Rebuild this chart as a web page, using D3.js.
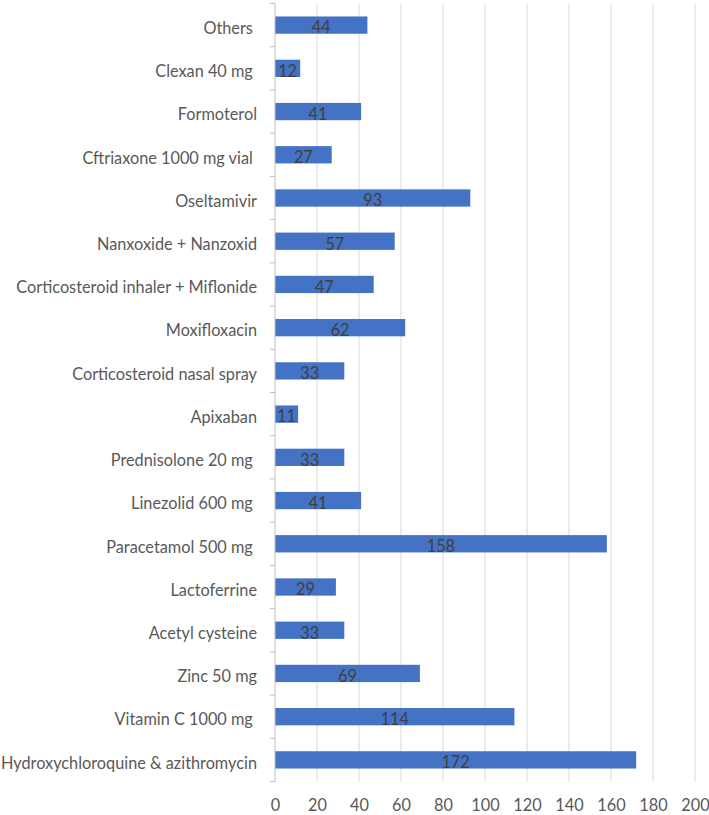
<!DOCTYPE html>
<html><head><meta charset="utf-8">
<script src="https://cdn.jsdelivr.net/npm/d3@7"></script>
<style>body{margin:0;background:#fff}svg text{white-space:pre}</style>
</head><body><svg id="c" width="709" height="815"></svg>
<script>
const categories = ["Others ","Clexan 40 mg ","Formoterol","Cftriaxone 1000 mg vial ","Oseltamivir","Nanxoxide + Nanzoxid","Corticosteroid inhaler + Miflonide","Moxifloxacin","Corticosteroid nasal spray","Apixaban","Prednisolone 20 mg ","Linezolid 600 mg ","Paracetamol 500 mg ","Lactoferrine","Acetyl cysteine","Zinc 50 mg","Vitamin C 1000 mg ","Hydroxychloroquine & azithromycin"];
const values = [44,12,41,27,93,57,47,62,33,11,33,41,158,29,33,69,114,172];
const xTicks = [0,20,40,60,80,100,120,140,160,180,200];

const svg = d3.select("#c");
const font = "Lato, 'Open Sans', sans-serif";
const top0 = 3.5, bot0 = 781.5;
const x = d3.scaleLinear().domain([0,200]).range([275,695]);
const y = d3.scaleBand().domain(categories).range([top0,bot0]).paddingInner(0.6).paddingOuter(0.3);

svg.append("g").selectAll("line").data(xTicks.slice(1)).join("line")
  .attr("x1",d=>x(d)).attr("x2",d=>x(d)).attr("y1",top0).attr("y2",bot0)
  .attr("stroke","#d9d9d9").attr("stroke-width",1);

svg.append("g").selectAll("rect").data(values).join("rect")
  .attr("x",x(0)).attr("y",(d,i)=>y(categories[i]))
  .attr("width",d=>x(d)-x(0)).attr("height",y.bandwidth())
  .attr("fill","#4472C4");

const yAxis = svg.append("g").attr("transform","translate(275,0)")
  .call(d3.axisLeft(y).tickSize(0).tickPadding(18));
yAxis.select(".domain").remove();
yAxis.selectAll("text").attr("font-family",font).attr("font-size",16.3).attr("fill","#595959").attr("dy","8.8px");
const step = (bot0-top0)/categories.length;
const bounds = d3.range(categories.length+1).map(i=>top0+i*step);
svg.append("g").selectAll("line").data(bounds).join("line")
  .attr("x1",270).attr("x2",275).attr("y1",d=>d).attr("y2",d=>d)
  .attr("stroke","#bfbfbf");
svg.append("line").attr("x1",275).attr("x2",275).attr("y1",top0).attr("y2",bot0).attr("stroke","#bfbfbf");

const xAxis = svg.append("g").attr("transform","translate(0,"+bot0+")")
  .call(d3.axisBottom(x).tickValues(xTicks).tickSize(0).tickPadding(18));
xAxis.select(".domain").remove();
xAxis.selectAll("text").attr("font-family",font).attr("font-size",16.3).attr("fill","#595959");

svg.append("g").selectAll("text").data(values).join("text")
  .attr("x",d=>(x(d)+x(0))/2).attr("y",(d,i)=>y(categories[i])+y.bandwidth()/2+8.3)
  .attr("text-anchor","middle").attr("font-family",font).attr("font-size",16.3)
  .attr("fill","#404040").text(d=>d);
</script></body></html>
